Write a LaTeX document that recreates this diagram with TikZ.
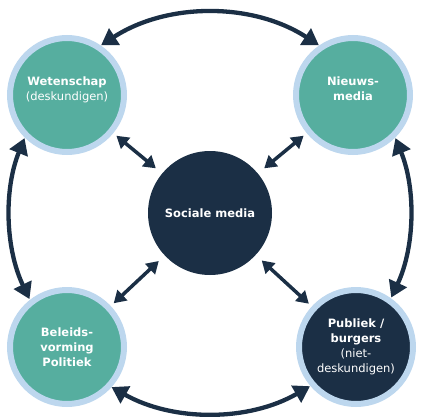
\documentclass[tikz,border=0pt]{standalone}
\usepackage{fontspec}
\setmainfont{DejaVu Sans}
\usetikzlibrary{arrows.meta}
\definecolor{tealc}{HTML}{56AE9F}
\definecolor{ringc}{HTML}{BDD7EE}
\definecolor{navy}{HTML}{1B2F45}
\begin{document}
\begin{tikzpicture}[x=1pt,y=1pt,
  lbl/.style={text=white, align=center, font=\fontsize{11.5}{15}\selectfont},
  actor/.style={circle, fill=tealc, draw=ringc, line width=6pt, minimum size=114pt, inner sep=0pt, lbl},
  hub/.style={circle, fill=navy, minimum size=124pt, inner sep=0pt, lbl},
  bigarrow/.style={draw=navy, line width=4.3pt, {Triangle[length=16pt,width=19pt]}-{Triangle[length=16pt,width=19pt]}},
  smallarrow/.style={draw=navy, line width=3.5pt, shorten <=8pt, shorten >=4pt, {Triangle[length=12pt,width=14pt]}-{Triangle[length=12pt,width=14pt]}}]
\useasboundingbox (0,0) rectangle (441,416);
\coordinate (C) at (210,203);
\node[hub] (soc) at (210,203) {\textbf{Sociale media}};
\node[actor] (wet) at (67,321) {\textbf{Wetenschap}\\(deskundigen)\\[-3pt]\mbox{}};
\node[actor] (nws) at (353,321) {\textbf{Nieuws-}\\\textbf{media}\\[-3pt]\mbox{}};
\node[actor] (bel) at (67,69) {\textbf{Beleids-}\\\textbf{vorming}\\\textbf{Politiek}};
\node[actor, fill=navy] (pub) at (356,69) {\textbf{Publiek /}\\\textbf{burgers}\\(niet-\\deskundigen)};
\draw[bigarrow] ([shift={(123:200)}]C) arc[start angle=123, end angle=57, radius=200];
\draw[bigarrow] ([shift={(158:200)}]C) arc[start angle=158, end angle=205.5, radius=200];
\draw[bigarrow] ([shift={(240.5:200)}]C) arc[start angle=240.5, end angle=300, radius=200];
\draw[bigarrow] ([shift={(-25:200)}]C) arc[start angle=-25, end angle=22, radius=200];
\draw[smallarrow] (soc) -- (wet);
\draw[smallarrow] (soc) -- (nws);
\draw[smallarrow] (soc) -- (bel);
\draw[smallarrow] (soc) -- (pub);
\end{tikzpicture}
\end{document}
